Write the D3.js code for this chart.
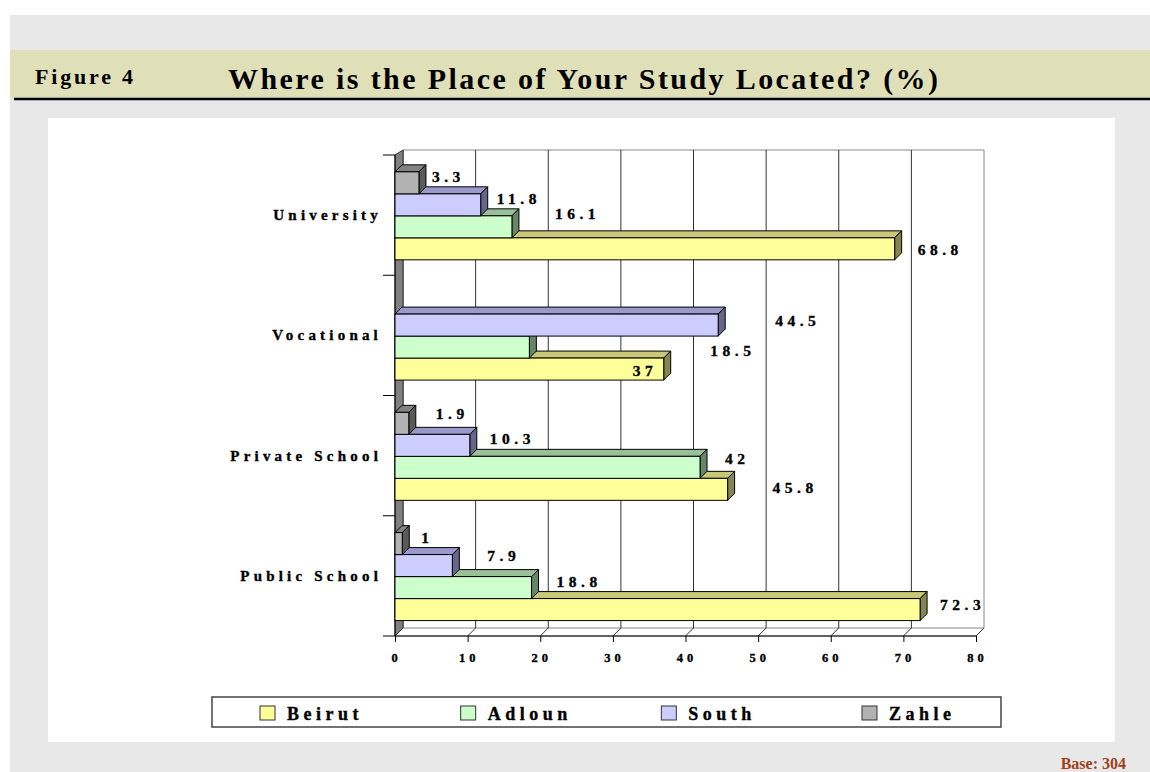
<!DOCTYPE html>
<html>
<head>
<meta charset="utf-8">
<script src="https://cdn.jsdelivr.net/npm/d3@7"></script>
<style>
  body { margin: 0; background: #fff; }
  text { font-family: "Liberation Serif", "DejaVu Serif", serif; font-weight: bold; }
  .heavy { stroke: #000; stroke-width: 0.35px; }
</style>
</head>
<body>
<script>
// data
var categories = ["University", "Vocational", "Private School", "Public School"];
var seriesNames = ["Beirut", "Adloun", "South", "Zahle"];
var beirut = [68.8, 37, 45.8, 72.3];
var adloun = [16.1, 18.5, 42, 18.8];
var south = [11.8, 44.5, 10.3, 7.9];
var zahle = [3.3, null, 1.9, 1];
var xTicks = [0, 10, 20, 30, 40, 50, 60, 70, 80];

// look
var fronts = { Beirut: "#ffff99", Adloun: "#ccffcc", South: "#ccccff", Zahle: "#b2b2b2" };
var tops = { Beirut: "#c8c878", Adloun: "#99c099", South: "#9999cc", Zahle: "#838383" };
var sides = { Beirut: "#858552", Adloun: "#678567", South: "#666688", Zahle: "#5a5a5a" };
var wallDepth = 8;
var barDepth = 7;

// hand-placed data labels in the original (dx, dy from the bar end)
var labelNudge = {
  "University|Zahle": [6, -2], "University|South": [9, -2], "University|Adloun": [36, -9], "University|Beirut": [16, 5],
  "Vocational|South": [50, 0], "Vocational|Adloun": [174, 8], "Vocational|Beirut": [-38, 6],
  "Private School|Zahle": [20, -5], "Private School|South": [13, -2], "Private School|Adloun": [18, -4], "Private School|Beirut": [38, 3],
  "Public School|Zahle": [12, -2], "Public School|South": [28, -6], "Public School|Adloun": [18, -2], "Public School|Beirut": [13, -1]
};

var valuesBySeries = { Beirut: beirut, Adloun: adloun, South: south, Zahle: zahle };

var svg = d3.select("body").append("svg")
    .attr("width", 1150)
    .attr("height", 772);

// page frame
svg.append("rect").attr("x", 10).attr("y", 15).attr("width", 1140).attr("height", 757).attr("fill", "#e8e8e8");
svg.append("rect").attr("x", 10).attr("y", 50).attr("width", 1140).attr("height", 48).attr("fill", "#e0e0b8");
svg.append("line").attr("x1", 14).attr("x2", 1150).attr("y1", 99).attr("y2", 99)
    .attr("stroke", "#000").attr("stroke-width", 2.5);
svg.append("rect").attr("x", 48).attr("y", 118).attr("width", 1067).attr("height", 624).attr("fill", "#fff");

svg.append("text").attr("x", 35).attr("y", 84).attr("font-size", 22)
    .attr("textLength", 98).attr("lengthAdjust", "spacing").text("Figure 4");
svg.append("text").attr("x", 228).attr("y", 89).attr("font-size", 30)
    .attr("textLength", 710).attr("lengthAdjust", "spacing")
    .text("Where is the Place of Your Study Located? (%)");

svg.append("text").attr("x", 1126).attr("y", 769).attr("font-size", 16)
    .attr("text-anchor", "end").attr("fill", "#a0401a").text("Base: 304");

// scales
var x = d3.scaleLinear().domain([0, 80]).range([395, 976]);
var y0 = d3.scaleBand().domain(categories).range([155, 636]).padding(0);
var y1 = d3.scaleBand().domain(seriesNames.slice().reverse())
    .range([y0.bandwidth() * 0.14, y0.bandwidth() * 0.14 + 88]).padding(0);

var plotTop = 155 - wallDepth + 3;
var plotBottom = 636;

// floor
svg.append("polygon")
    .attr("points", [[x(0), plotBottom], [x(0) + wallDepth, plotBottom - wallDepth],
                     [x(80) + wallDepth, plotBottom - wallDepth], [x(80), plotBottom]].join(" "))
    .attr("fill", "#fff").attr("stroke", "#888").attr("stroke-width", 1);

// back wall grid
var grid = svg.append("g");
grid.append("line")
    .attr("x1", x(0) + wallDepth).attr("x2", x(80) + wallDepth)
    .attr("y1", plotTop).attr("y2", plotTop)
    .attr("stroke", "#888");
xTicks.forEach(function(t) {
    grid.append("line")
        .attr("x1", x(t) + wallDepth).attr("x2", x(t) + wallDepth)
        .attr("y1", plotTop).attr("y2", plotBottom - wallDepth)
        .attr("stroke", t === 80 ? "#888" : "#333").attr("stroke-width", 1);
    grid.append("line")
        .attr("x1", x(t)).attr("x2", x(t) + wallDepth)
        .attr("y1", plotBottom).attr("y2", plotBottom - wallDepth)
        .attr("stroke", "#333").attr("stroke-width", 1);
});

// left wall
svg.append("polygon")
    .attr("points", [[x(0), 155], [x(0) + wallDepth, plotTop],
                     [x(0) + wallDepth, plotBottom - wallDepth], [x(0), plotBottom]].join(" "))
    .attr("fill", "#808080").attr("stroke", "#333").attr("stroke-width", 1);

// axes
var xAxis = svg.append("g")
    .attr("transform", "translate(0," + plotBottom + ")")
    .call(d3.axisBottom(x).tickValues(xTicks).tickSize(6).tickPadding(11).tickFormat(function(d) { return d; }));
xAxis.select(".domain").attr("stroke", "#000").attr("d", "M" + x(0) + ",0H" + x(80));
xAxis.selectAll("text").attr("class", "heavy").attr("font-size", 12.5).attr("font-family", "Liberation Serif")
    .attr("font-weight", "bold").attr("letter-spacing", 4).attr("dx", 1).attr("fill", "#000");

var yAxis = svg.append("g").attr("transform", "translate(" + x(0) + ",0)");
yAxis.append("line").attr("x1", 0).attr("x2", 0).attr("y1", 155).attr("y2", plotBottom).attr("stroke", "#000");
y0.domain().concat([null]).forEach(function(c) {
    var yy = c === null ? y0.range()[1] : y0(c);
    yAxis.append("line").attr("x1", -12).attr("x2", 0).attr("y1", yy).attr("y2", yy).attr("stroke", "#000");
});
yAxis.selectAll("text.cat").data(categories).enter().append("text")
    .attr("class", "cat heavy")
    .attr("x", -13)
    .attr("y", function(d) { return y0(d) + y0.bandwidth() / 2 + 5; })
    .attr("text-anchor", "end")
    .attr("font-size", 15)
    .attr("letter-spacing", 4.2)
    .text(function(d) { return d; });

// bars, drawn bottom first so upper bars cover the top faces below them
var bars = [];
categories.slice().reverse().forEach(function(c) {
    var ci = categories.indexOf(c);
    seriesNames.forEach(function(s) {
        var v = valuesBySeries[s][ci];
        if (v === null) return;
        bars.push({ cat: c, series: s, value: v });
    });
});

var barG = svg.append("g");
bars.forEach(function(b) {
    var xa = x(0), xb = x(b.value);
    var ya = y0(b.cat) + y1(b.series), h = y1.bandwidth();
    var d = barDepth;
    var g = barG.append("g");
    g.append("polygon")
        .attr("points", [[xa, ya], [xa + d, ya - d], [xb + d, ya - d], [xb, ya]].join(" "))
        .attr("fill", tops[b.series]).attr("stroke", "#000").attr("stroke-width", 1);
    g.append("polygon")
        .attr("points", [[xb, ya], [xb + d, ya - d], [xb + d, ya + h - d], [xb, ya + h]].join(" "))
        .attr("fill", sides[b.series]).attr("stroke", "#000").attr("stroke-width", 1);
    g.append("rect")
        .attr("x", xa).attr("y", ya).attr("width", xb - xa).attr("height", h)
        .attr("fill", fronts[b.series]).attr("stroke", "#000").attr("stroke-width", 1);
});

// data labels
bars.forEach(function(b) {
    var n = labelNudge[b.cat + "|" + b.series] || [8, 0];
    svg.append("text")
        .attr("class", "heavy")
        .attr("x", x(b.value) + barDepth + n[0])
        .attr("y", y0(b.cat) + y1(b.series) + y1.bandwidth() / 2 + n[1] + 1)
        .attr("font-size", 15.5)
        .attr("letter-spacing", 4.5)
        .text(b.value);
});

// legend
var legend = svg.append("g");
legend.append("rect").attr("x", 212).attr("y", 697).attr("width", 789).attr("height", 30)
    .attr("fill", "#fff").attr("stroke", "#444").attr("stroke-width", 1.5);
var lx = d3.scaleLinear().domain([0, 3]).range([260, 862]);
seriesNames.forEach(function(s, i) {
    legend.append("rect").attr("x", lx(i)).attr("y", 706).attr("width", 15).attr("height", 14)
        .attr("fill", fronts[s]).attr("stroke", "#333").attr("stroke-width", 1);
    legend.append("text").attr("class", "heavy").attr("x", lx(i) + 27).attr("y", 720)
        .attr("font-size", 18).attr("letter-spacing", 4.5).text(s);
});
</script>
</body>
</html>
